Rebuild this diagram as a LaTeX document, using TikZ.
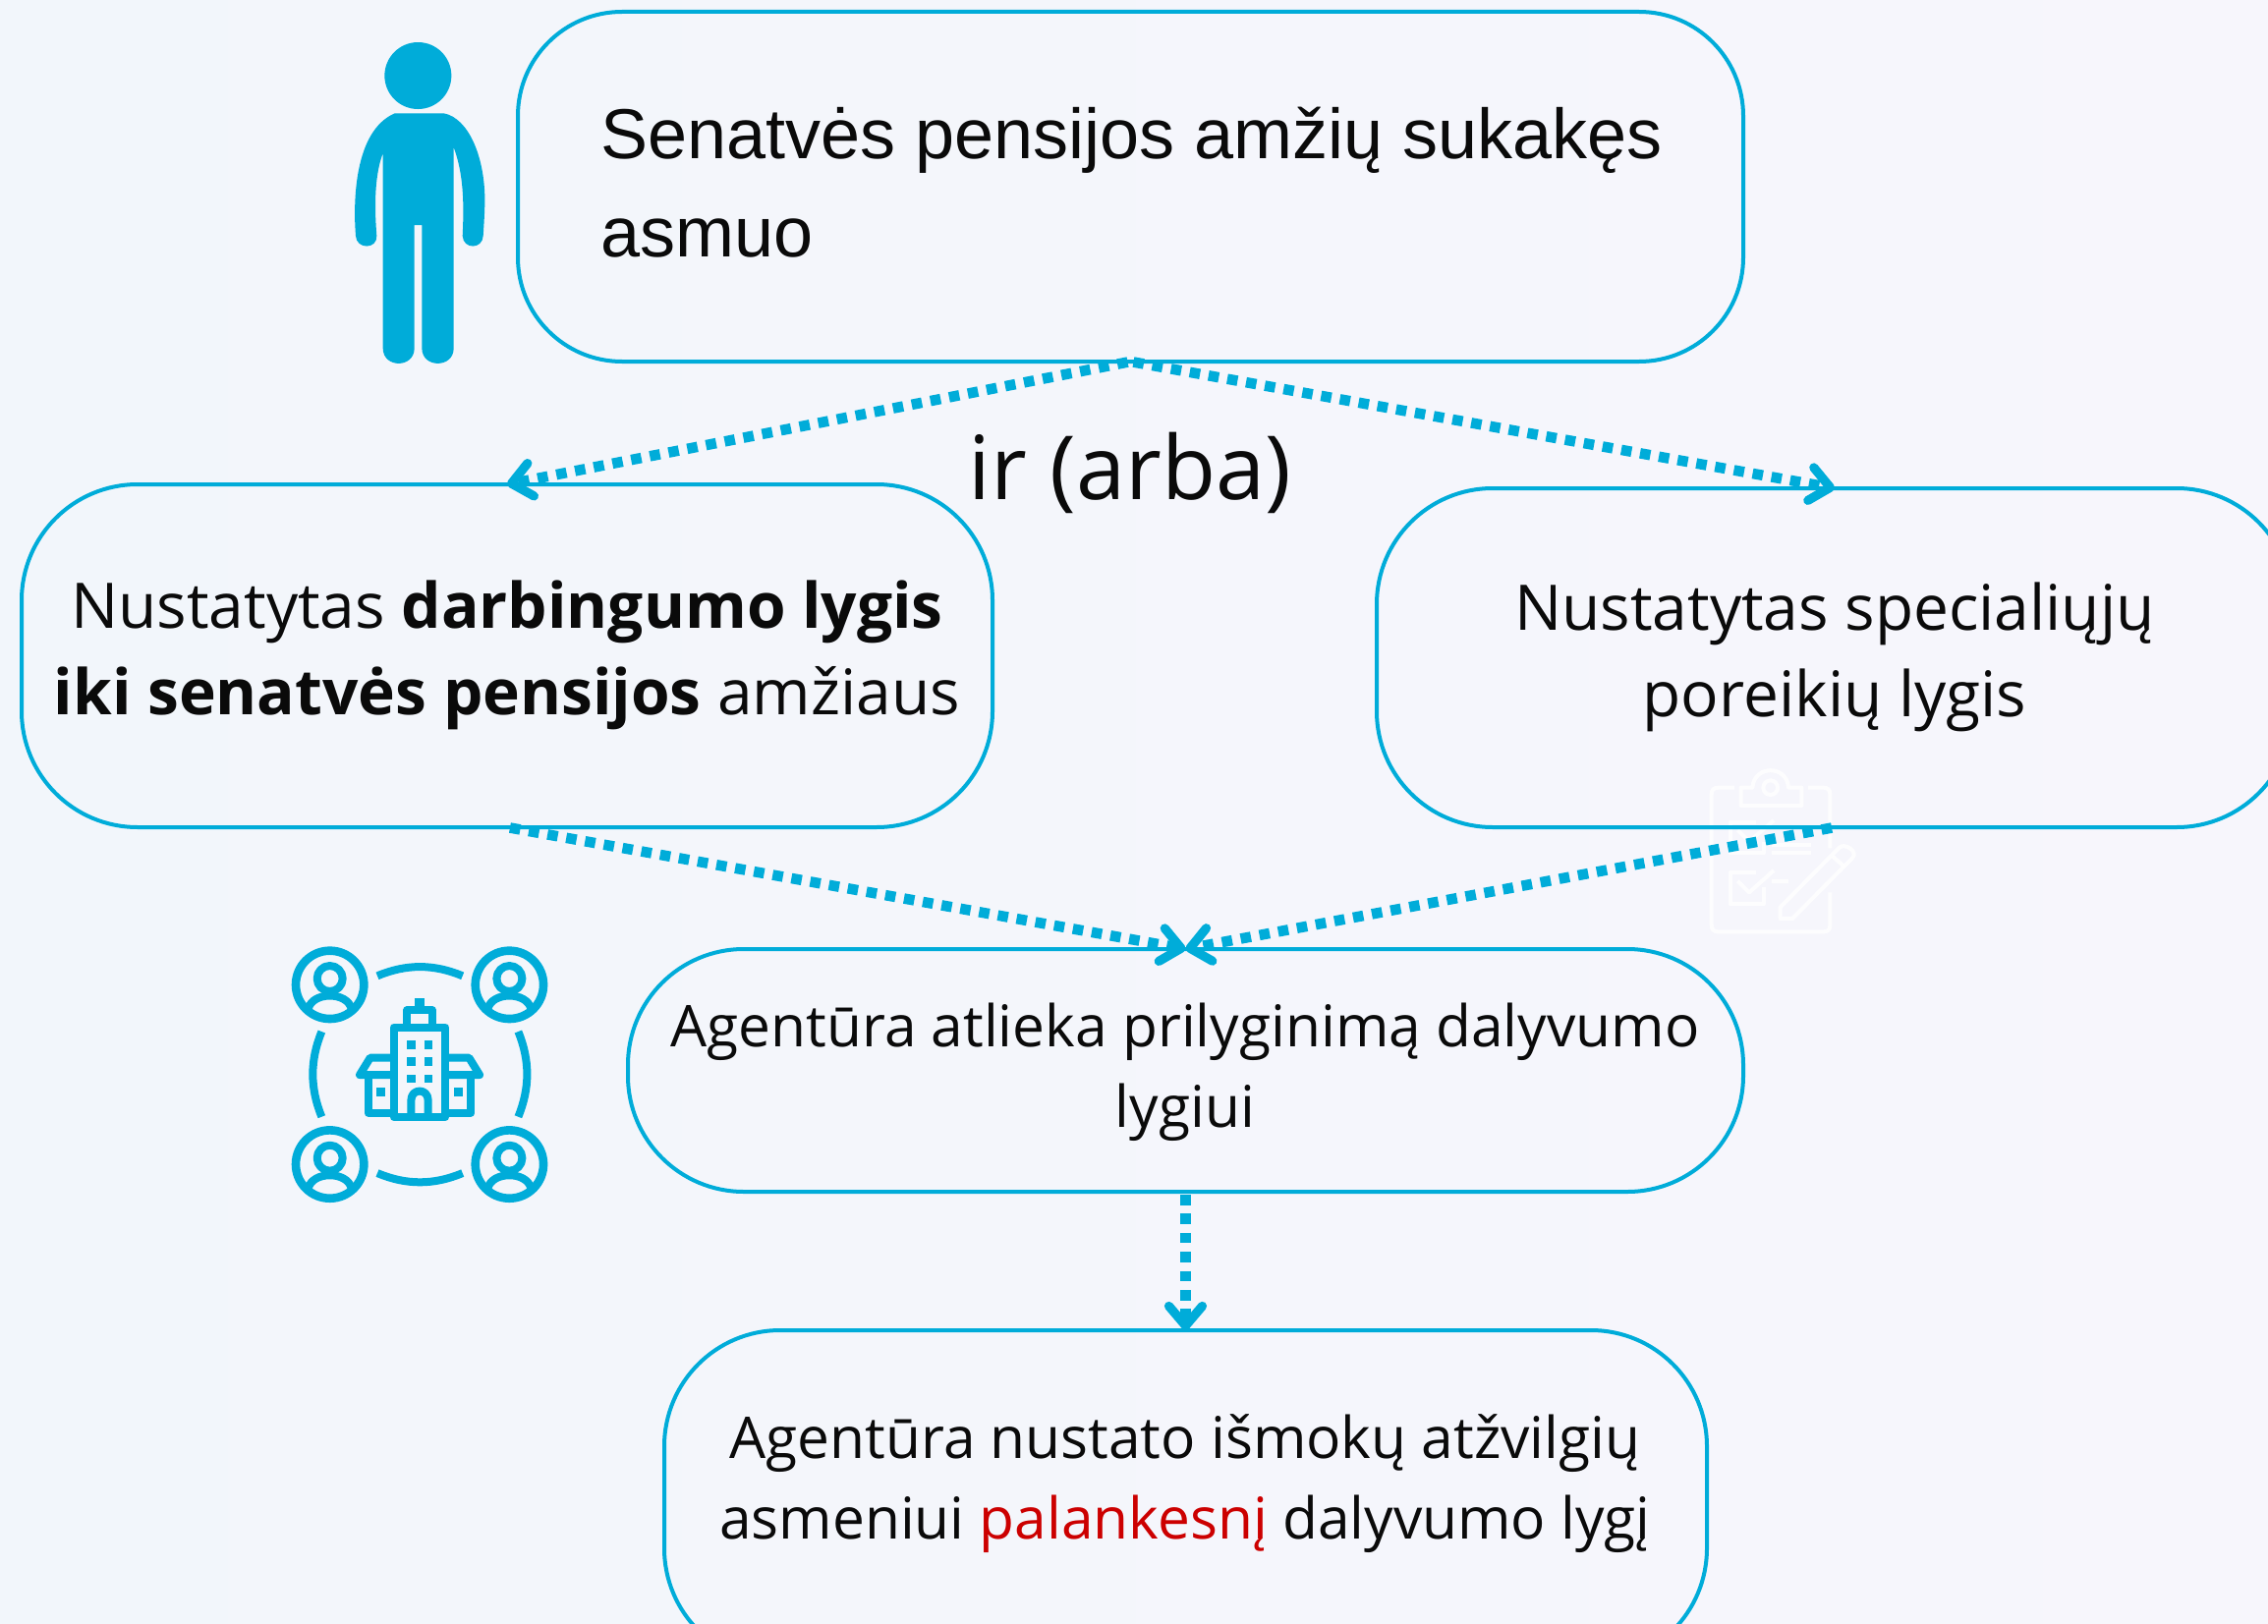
\documentclass[tikz,border=0pt]{standalone}
\usepackage{fontspec}
\setmainfont{Open Sans}
\newfontfamily\arialfont{Liberation Sans}
\usetikzlibrary{arrows.meta}
\definecolor{cy}{HTML}{00ACD9}
\definecolor{bgl}{HTML}{F2F6FB}
\definecolor{bgr}{HTML}{F7F6FC}
\definecolor{redt}{HTML}{CC0000}
\definecolor{ink}{HTML}{0A0A0A}
\tikzset{
  box/.style={draw=cy,line width=2pt,rounded corners=#1,inner sep=0pt,outer sep=0pt},
  flow/.style={draw=cy,line width=5.3pt,dash pattern=on 5.3pt off 4.4pt,shorten <=1.5pt,
    -{Straight Barb[length=10pt,width=17pt,round,line width=4.6pt]}},
  txt/.style={text=ink,inner sep=0pt,align=center},
  icon/.style={draw=cy,line width=4pt,line join=round,line cap=butt},
  clipb/.style={draw=white,draw opacity=0.85,line width=2pt,line join=round},
}
\begin{document}
\begin{tikzpicture}[x=0.5pt,y=-0.5pt]
\useasboundingbox (0,0) rectangle (2308,1653);
\clip (0,0) rectangle (2308,1653);
\shade[left color=bgl,right color=bgr] (0,0) rectangle (2308,1653);

% clipboard icon (white, faint)
\begin{scope}[shift={(1700,760)},x=0.1667pt,y=-0.1667pt]
\draw[clipb] (195,125) -- (145,125) .. controls (132,125) and (125,132) .. (125,145) -- (125,545) .. controls (125,558) and (132,565) .. (145,565) -- (467,565) .. controls (480,565) and (487,558) .. (487,545) -- (487,445);
\draw[clipb] (420,125) -- (467,125) .. controls (480,125) and (487,132) .. (487,145) -- (487,310);
\draw[clipb] (215,125) -- (250,125) .. controls (255,55) and (355,55) .. (360,125) -- (400,125) -- (400,180) -- (215,180) -- cycle;
\draw[clipb] (305,125) circle (22);
\draw[clipb] (262,232) -- (182,232) -- (182,325) -- (285,325) -- (285,290);
\draw[clipb] (205,255) -- (240,290) -- (315,225);
\draw[clipb] (310,300) -- (430,300);
\draw[clipb] (310,325) -- (430,325);
\draw[clipb] (262,385) -- (182,385) -- (182,480) -- (285,480) -- (285,430);
\draw[clipb] (205,410) -- (240,445) -- (315,378);
\draw[clipb] (310,410) -- (360,410);
\draw[clipb] (335,525) -- (335,490) -- (515,308) .. controls (530,292) and (575,320) .. (555,340) -- (372,525) -- cycle;
\draw[clipb] (495,335) -- (532,368);
\end{scope}

% person icon
\begin{scope}[shift={(340,20)},x=0.1667pt,y=-0.1667pt]
\fill[cy] (256,171) circle (102);
\fill[cy] (185,286) -- (335,286) .. controls (410,300) and (462,420) .. (460,560) .. controls (459,600) and (457,630) .. (455,660) .. controls (453,702) and (394,702) .. (392,660) .. controls (397,560) and (395,470) .. (365,390) -- (365,1003) .. controls (365,1065) and (268,1065) .. (268,1003) -- (268,627) -- (245,627) -- (245,1003) .. controls (245,1065) and (149,1065) .. (149,1003) -- (149,408) .. controls (125,470) and (122,560) .. (130,660) .. controls (132,702) and (68,702) .. (66,660) .. controls (58,560) and (60,340) .. (185,286) -- cycle;
\end{scope}

% organisation icon
\begin{scope}[shift={(280,920)},x=0.1667pt,y=-0.1667pt]
\foreach \cx/\cy in {167/247,715/247,167/795,715/795}{
  \begin{scope}[shift={(\cx,\cy)}]
    \draw[icon,line width=4.3pt] (0,0) circle (104);
    \draw[icon] (0,-19) circle (39);
    \begin{scope}
      \clip (0,0) circle (100);
      \draw[icon] (-66,74) .. controls (-54,20) and (54,20) .. (66,74);
    \end{scope}
  \end{scope}
}
\draw[icon] (312,220) .. controls (400,183) and (484,183) .. (572,220);
\draw[icon] (312,822) .. controls (400,859) and (484,859) .. (572,822);
\draw[icon] (142,390) .. controls (106,478) and (106,562) .. (142,650);
\draw[icon] (742,390) .. controls (778,478) and (778,562) .. (742,650);
\draw[icon] (362,377) -- (520,377) -- (520,651) -- (362,651) -- cycle;
\draw[icon] (402,377) -- (402,325) -- (480,325) -- (480,377);
\fill[cy] (427,287) rectangle (455,315);
\draw[icon] (362,470) -- (290,470) -- (258,522) -- (362,522);
\draw[icon] (284,522) -- (284,638) -- (362,638);
\draw[icon] (520,470) -- (592,470) -- (624,522) -- (520,522);
\draw[icon] (598,522) -- (598,638) -- (520,638);
\foreach \wx in {403,455}{\foreach \wy in {417,469,521}{
  \fill[cy] (\wx,\wy) rectangle ++(26,26);}}
\fill[cy] (310,560) rectangle ++(27,27);
\fill[cy] (546,560) rectangle ++(27,27);
\draw[icon] (415,640) -- (415,600) .. controls (415,562) and (467,562) .. (467,600) -- (467,640);
\end{scope}

% boxes
\node[box=53pt,minimum width=623.5pt,minimum height=178pt] (b1) at (1150.5,190) {};
\node[box=59pt,minimum width=494pt,minimum height=174.5pt] (b2) at (516,667.5) {};
\node[box=59pt,minimum width=466pt,minimum height=172.5pt] (b3) at (1867,669.5) {};
\node[box=59pt,minimum width=567.5pt,minimum height=123.5pt] (b4) at (1206.5,1089.5) {};
\node[box=59pt,minimum width=530.5pt,minimum height=170pt] (b5) at (1206.5,1524) {};

% texts
\node[txt,anchor=west,align=left,font=\arialfont\fontsize{36}{50}\selectfont] (t1) at (611,186) {Senatvės pensijos amžių sukakęs\\asmuo};
\node[txt,font=\fontsize{32}{44}\selectfont] (t2) at (516,667) {Nustatytas \textbf{darbingumo lygis}\\\textbf{iki senatvės pensijos} amžiaus};
\node[txt,font=\fontsize{32}{44}\selectfont] (t3) at (1867,669) {Nustatytas specialiųjų\\poreikių lygis};
\node[txt,font=\fontsize{29.3}{41}\selectfont] (t4) at (1206,1091) {Agentūra atlieka prilyginimą dalyvumo\\lygiui};
\node[txt,font=\fontsize{29.3}{41}\selectfont] (t5) at (1206,1510) {Agentūra nustato išmokų atžvilgių\\asmeniui \textcolor{redt}{palankesnį} dalyvumo lygį};
\node[txt,font=\fontsize{45}{50}\selectfont] (t6) at (1150,481) {ir (arba)};

% connectors
\draw[flow] (b1.south) -- (b2.north);
\draw[flow] (b1.south) -- (b3.north);
\draw[flow] (b2.south) -- (b4.north);
\draw[flow] (b3.south) -- (b4.north);
\draw[flow] (b4.south) -- (b5.north);
\end{tikzpicture}
\end{document}
